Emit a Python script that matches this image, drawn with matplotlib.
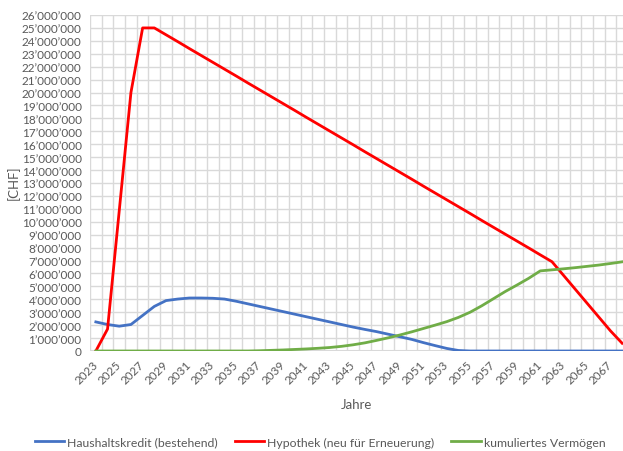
import numpy as np
import matplotlib
matplotlib.use("Agg")
import matplotlib.pyplot as plt
from matplotlib.ticker import FuncFormatter, MultipleLocator

plt.rcParams['font.family'] = ['Lato', 'DejaVu Sans']

years = list(range(2023, 2069))

# Werte in Mio. CHF
haushaltskredit = [2.25, 2.05, 1.92, 2.05, 2.75, 3.45, 3.90, 4.02, 4.10, 4.10,
                   4.08, 4.02, 3.85, 3.65, 3.45, 3.25, 3.05, 2.85, 2.65, 2.45,
                   2.25, 2.05, 1.85, 1.67, 1.50, 1.30, 1.10, 0.90, 0.65, 0.42,
                   0.20, 0.04, 0.00, 0.00, 0.00, 0.00, 0.00, 0.00, 0.00, 0.00,
                   0.00, 0.00, 0.00, 0.00, 0.00, 0.00]
hypothek = [0.00, 1.70, 10.85, 20.00, 25.00, 25.00, 24.47, 23.94, 23.40, 22.87,
            22.34, 21.81, 21.28, 20.74, 20.21, 19.68, 19.15, 18.62, 18.08, 17.55,
            17.02, 16.49, 15.96, 15.42, 14.89, 14.36, 13.83, 13.30, 12.76, 12.23,
            11.70, 11.17, 10.64, 10.10, 9.57, 9.04, 8.51, 7.98, 7.44, 6.91,
            5.84, 4.77, 3.70, 2.63, 1.56, 0.60]
vermoegen = [0.00, 0.00, 0.00, 0.00, 0.00, 0.00, 0.00, 0.00, 0.00, 0.00,
             0.00, 0.00, 0.00, 0.00, 0.02, 0.05, 0.08, 0.12, 0.16, 0.21,
             0.27, 0.36, 0.48, 0.63, 0.82, 1.02, 1.24, 1.48, 1.74, 2.00,
             2.27, 2.60, 3.00, 3.50, 4.05, 4.60, 5.10, 5.62, 6.20, 6.28,
             6.36, 6.45, 6.55, 6.65, 6.77, 6.90]

series = [
    ("Haushaltskredit (bestehend)", haushaltskredit, "#4472C4"),
    ("Hypothek (neu für Erneuerung)", hypothek, "#FF0000"),
    ("kumuliertes Vermögen", vermoegen, "#70AD47"),
]

W, H = 623, 452
fig = plt.figure(figsize=(W / 100, H / 100), dpi=100)
ax = fig.add_axes([90 / W, 1 - 352 / H, 538 / W, 336 / H])

for name, vals, col in series:
    ax.plot(years, np.array(vals) * 1e6, color=col, lw=2.0, label=name,
            solid_joinstyle='round', zorder=3)

ax.set_xlim(2022.5, 2068.5)
ax.set_ylim(0, 26e6)
ax.yaxis.set_major_locator(MultipleLocator(1e6))
ax.set_xticks(years[::2])
ax.set_xticks(np.arange(2022.5, 2069, 1.0), minor=True)

def chf(v, pos):
    if v == 0:
        return "0"
    return f"{int(round(v)):,}".replace(",", "\u2019")

ax.yaxis.set_major_formatter(FuncFormatter(chf))

grid_col = "#D9D9D9"
ax.grid(axis='y', which='major', color=grid_col, lw=1.0, zorder=0)
ax.grid(axis='x', which='minor', color=grid_col, lw=1.0, zorder=0)
for s in ax.spines.values():
    s.set_visible(False)
ax.axhline(0, color=grid_col, lw=1.5, zorder=1)

ax.tick_params(axis='both', which='both', length=0, colors="#595959", labelsize=8.5)
ax.tick_params(axis='y', pad=6)
for lbl in ax.get_xticklabels():
    lbl.set_rotation(45)
    lbl.set_ha('right')
    lbl.set_va('center')
    lbl.set_rotation_mode('anchor')
ax.tick_params(axis='x', pad=8)

fig.text(13 / W, 1 - 183 / H, "[CHF]", rotation=90, ha='center', va='center',
         color="#595959", fontsize=9.5)
fig.text(356 / W, 1 - 405 / H, "Jahre", ha='center', va='center',
         color="#595959", fontsize=9.5)

fig.legend(loc='center', bbox_to_anchor=(320 / W, 1 - 443 / H), ncol=3,
           frameon=False, fontsize=8.8, handlelength=2.4, handletextpad=0.25,
           columnspacing=1.4, labelcolor="#595959")

fig.savefig("out.png", dpi=100)
